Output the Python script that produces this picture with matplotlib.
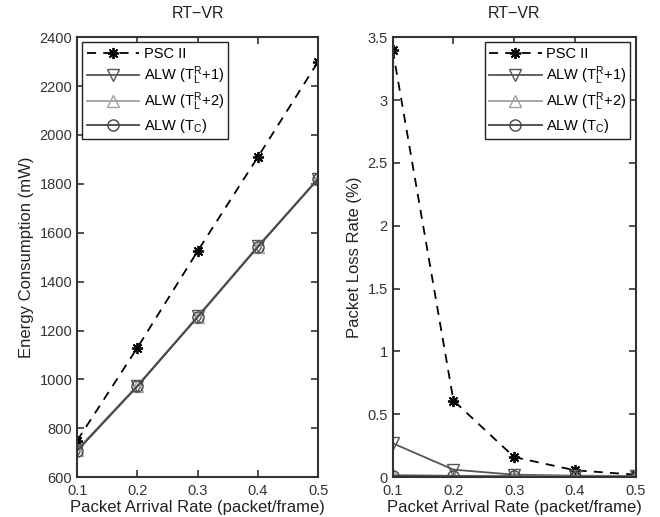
import numpy as np
import matplotlib.pyplot as plt
from matplotlib.ticker import FuncFormatter

plt.rcParams['font.family'] = ['Liberation Sans', 'DejaVu Sans']
plt.rcParams['mathtext.default'] = 'regular'

# data
rate = [0.1, 0.2, 0.3, 0.4, 0.5]
energy_psc = [750, 1130, 1525, 1910, 2300]
energy_alw1 = [712, 975, 1258, 1545, 1822]
energy_alw2 = [710, 973, 1256, 1543, 1820]
energy_alwc = [708, 972, 1255, 1542, 1820]
loss_psc = [3.4, 0.61, 0.16, 0.055, 0.02]
loss_alw1 = [0.27, 0.06, 0.02, 0.012, 0.01]
loss_alw2 = [0.02, 0.012, 0.01, 0.008, 0.008]
loss_alwc = [0.01, 0.008, 0.006, 0.005, 0.005]

labels = ['PSC II', r'ALW ($T_L^R$+1)', r'ALW ($T_L^R$+2)', r'ALW ($T_C$)']
styles = [
    dict(color='black', ls=(0, (5, 4)), marker=(8, 2, 0), ms=8, mew=1.3, lw=1.3),
    dict(color='#555555', ls='-', marker='v', ms=8, mfc='none', lw=1.3),
    dict(color='#a0a0a0', ls='-', marker='^', ms=8, mfc='none', lw=1.3),
    dict(color='#454545', ls='-', marker='o', ms=8, mfc='none', lw=1.3),
]

fig = plt.figure(figsize=(6.6, 5.17), dpi=100)
ax1 = fig.add_axes([0.117, 0.077, 0.365, 0.851])
ax2 = fig.add_axes([0.595, 0.077, 0.368, 0.851])

for ax, series in [(ax1, [energy_psc, energy_alw1, energy_alw2, energy_alwc]),
                   (ax2, [loss_psc, loss_alw1, loss_alw2, loss_alwc])]:
    for y, lab, st in zip(series, labels, styles):
        ax.plot(rate, y, label=lab, **st)
    ax.set_xlim(0.1, 0.5)
    ax.set_xticks([0.1, 0.2, 0.3, 0.4, 0.5])
    ax.tick_params(direction='in', top=True, right=True, labelsize=10.5,
                   length=5, width=1.2, colors='#333333', labelcolor='#333333')
    ax.tick_params(axis='x', pad=5)
    ax.set_xlabel('Packet Arrival Rate (packet/frame)', fontsize=12, labelpad=1,
                  color='#222222')
    ax.set_title('RT\u2212VR', fontsize=11.5, pad=14, color='#222222')
    for sp in ax.spines.values():
        sp.set_linewidth(1.5)
        sp.set_color('#333333')

ax1.set_ylim(600, 2400)
ax1.set_yticks(np.arange(600, 2401, 200))
ax1.set_ylabel('Energy Consumption (mW)', fontsize=12, color='#222222')
ax1.legend(loc='upper left', fontsize=10.5, fancybox=False, edgecolor='#222222',
           framealpha=1, handlelength=3.6, labelspacing=0.25, borderaxespad=0.35,
           handletextpad=0.3, borderpad=0.3)

ax2.set_ylim(0, 3.5)
ax2.set_yticks(np.arange(0, 3.51, 0.5))
ax2.yaxis.set_major_formatter(FuncFormatter(lambda v, p: f'{v:g}'))
ax2.set_ylabel('Packet Loss Rate (%)', fontsize=12, color='#222222')
ax2.legend(loc='upper right', fontsize=10.5, fancybox=False, edgecolor='#222222',
           framealpha=1, handlelength=3.6, labelspacing=0.25, borderaxespad=0.35,
           handletextpad=0.3, borderpad=0.3)

fig.savefig('out.png', dpi=100)
